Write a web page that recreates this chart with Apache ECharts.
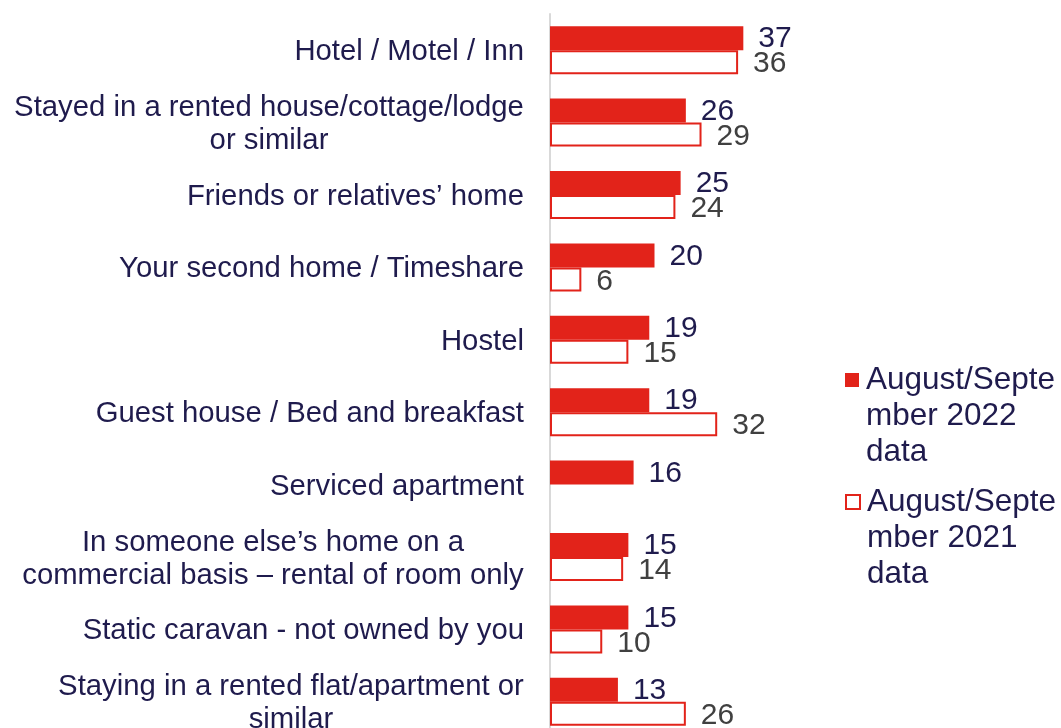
<!DOCTYPE html>
<html>
<head>
<meta charset="utf-8">
<title>Accommodation</title>
<script src="https://cdn.jsdelivr.net/npm/echarts@6/dist/echarts.min.js"></script>
<style>
  html, body { margin: 0; padding: 0; background: #fff; }
  #main { width: 1061px; height: 728px; }
</style>
</head>
<body>
<div id="main"></div>
<script>
// data
var categories = [
  'Hotel / Motel / Inn',
  'Stayed in a rented house/cottage/lodge\nor similar',
  'Friends or relatives\u2019 home',
  'Your second home / Timeshare',
  'Hostel',
  'Guest house / Bed and breakfast',
  'Serviced apartment',
  'In someone else\u2019s home on a\ncommercial basis \u2013 rental of room only',
  'Static caravan - not owned by you',
  'Staying in a rented flat/apartment or\nsimilar'
];
var data2022 = [37, 26, 25, 20, 19, 19, 16, 15, 15, 13];
var data2021 = [36, 29, 24, 6, 15, 32, null, 14, 10, 26];
var seriesNames = ['August/September 2022 data', 'August/September 2021 data'];
var legendLabels = ['August/Septe\nmber 2022\ndata', 'August/Septe\nmber 2021\ndata'];

var RED = '#e2231a';
var NAVY = '#1f1b4d';
var GREY = '#404040';
var FONT = 'Liberation Sans, Arial, sans-serif';
var CAT_SIZE = 29.3;

// multi-line category labels: centre the lines inside the widest one
var cv = document.createElement('canvas').getContext('2d');
cv.font = CAT_SIZE + 'px ' + FONT;
var rich = {};
var labelMap = {};
categories.forEach(function (c, i) {
  var lines = c.split('\n');
  if (lines.length < 2) { labelMap[c] = c; return; }
  var w = 0;
  lines.forEach(function (l) { w = Math.max(w, cv.measureText(l).width); });
  rich['c' + i] = {
    width: Math.ceil(w), align: 'center',
    fontSize: CAT_SIZE, fontFamily: FONT, color: NAVY, lineHeight: 33
  };
  labelMap[c] = lines.map(function (l) { return '{c' + i + '|' + l + '}'; }).join('\n');
});

var myChart = echarts.init(document.getElementById('main'));

var option = {
  animation: false,
  grid: { left: 550, top: 14, width: 209, height: 724, outerBoundsMode: 'none' },
  // one legend per series; two blank lines on top keep the square beside the first line
  legend: [0, 1].map(function (k) {
    return {
      data: [seriesNames[k]],
      left: 845,
      top: k === 0 ? 289 : 411,
      padding: 0,
      icon: 'rect',
      itemWidth: 14,
      itemHeight: 14,
      selectedMode: false,
      formatter: function () { return '\u00a0\n\u00a0\n' + legendLabels[k]; },
      textStyle: {
        fontFamily: FONT, fontSize: 31.5, color: NAVY, lineHeight: 36,
        padding: [2, 0, 0, 2]
      }
    };
  }),
  xAxis: {
    type: 'value', min: 0, max: 40, show: false,
    splitLine: { show: false }
  },
  yAxis: {
    type: 'category',
    inverse: true,
    data: categories,
    axisLine: { show: true, lineStyle: { color: '#d9d9d9', width: 2 } },
    axisTick: { show: false },
    axisLabel: {
      margin: 26,
      padding: [4, 0, 0, 0],
      fontFamily: FONT, fontSize: CAT_SIZE, color: NAVY, lineHeight: 33,
      formatter: function (v) { return labelMap[v]; },
      rich: rich
    }
  },
  series: [
    {
      name: seriesNames[0],
      type: 'bar',
      data: data2022,
      barWidth: 24,
      barGap: '0%',
      itemStyle: { color: RED },
      label: {
        show: true, position: 'right', distance: 15, offset: [0, 1],
        fontFamily: FONT, fontSize: 30, color: NAVY
      }
    },
    {
      name: seriesNames[1],
      type: 'bar',
      data: data2021,
      barWidth: 24,
      barGap: '0%',
      itemStyle: { color: '#ffffff', borderColor: RED, borderWidth: 2 },
      label: {
        show: true, position: 'right', distance: 15, offset: [0, 2],
        fontFamily: FONT, fontSize: 30, color: GREY
      }
    }
  ]
};
myChart.setOption(option);
</script>
</body>
</html>
